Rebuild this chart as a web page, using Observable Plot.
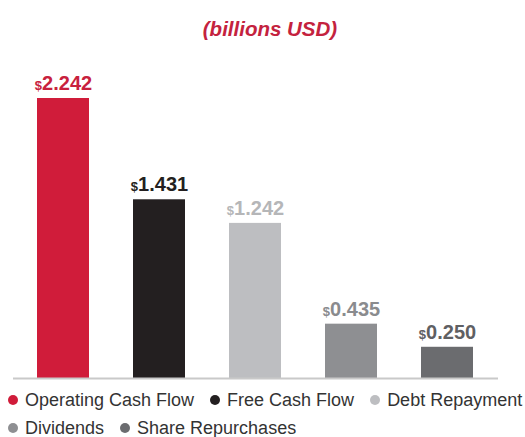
<!DOCTYPE html>
<html>
<head>
<meta charset="utf-8">
<script src="https://cdn.jsdelivr.net/npm/d3@7"></script>
<script src="https://cdn.jsdelivr.net/npm/@observablehq/plot@0.6"></script>
<style>
  html, body { margin: 0; padding: 0; background: #fff; }
  body { width: 525px; height: 437px; position: relative; overflow: hidden; font-family: "Liberation Sans", Arial, sans-serif; }
  #title { position: absolute; top: 17px; left: 0; width: 540px; text-align: center; color: #c4223e; font-weight: bold; font-style: italic; font-size: 20.5px; line-height: 24px; }
  #chart { position: absolute; top: 50px; left: 0; }
  #legend { position: absolute; top: 389px; left: 8px; width: 517px; display: flex; flex-wrap: wrap; column-gap: 16px; row-gap: 6px; font-size: 18px; color: #333; }
  .item { display: flex; align-items: center; line-height: 22px; white-space: nowrap; }
  .dot { width: 10px; height: 10px; border-radius: 50%; margin-right: 7px; }
</style>
</head>
<body>
<div id="title">(billions USD)</div>
<div id="chart"></div>
<div id="legend"></div>
<script>
const categories = ["Operating Cash Flow", "Free Cash Flow", "Debt Repayment", "Dividends", "Share Repurchases"];
const values = [2.242, 1.431, 1.242, 0.435, 0.250];
const barColors = ["#d01c3a", "#231f20", "#bdbec1", "#8e8f92", "#6b6c6f"];
const labelColors = ["#c8213d", "#231f20", "#b5b6b8", "#8a8b8e", "#5f6063"];
const labels = ["2.242", "1.431", "1.242", "0.435", "0.250"];

const data = categories.map((c, i) => ({category: c, value: values[i], label: labels[i], bar: barColors[i], lab: labelColors[i]}));

const plot = Plot.plot({
  width: 525,
  height: 335,
  marginTop: 48,
  marginBottom: 7,
  marginLeft: 13,
  marginRight: 27,
  x: {domain: categories, paddingInner: 0.455, paddingOuter: 0.23, axis: null},
  y: {domain: [0, 2.242], axis: null},
  marks: [
    Plot.barY(data, {x: "category", y: "value", fill: "bar"}),
    Plot.ruleY([0], {stroke: "#c9c9c9", strokeWidth: 2}),
    Plot.text(data, {x: "category", y: "value", text: d => "$" + d.label, fill: "lab", dy: -15, fontSize: 20, fontWeight: "bold", fontFamily: "Liberation Sans, Arial, sans-serif", className: "vlabel"})
  ]
});
document.getElementById("chart").appendChild(plot);

// Make the "$" smaller
plot.querySelectorAll(".vlabel text").forEach(t => {
  const s = t.textContent;
  if (s.startsWith("$")) {
    t.textContent = "";
    const ns = "http://www.w3.org/2000/svg";
    const a = document.createElementNS(ns, "tspan");
    a.setAttribute("font-size", "13");
    a.textContent = "$";
    const b = document.createElementNS(ns, "tspan");
    b.textContent = s.slice(1);
    t.appendChild(a); t.appendChild(b);
  }
});

const legend = document.getElementById("legend");
categories.forEach((c, i) => {
  const it = document.createElement("div");
  it.className = "item";
  const d = document.createElement("span");
  d.className = "dot";
  d.style.background = barColors[i];
  it.appendChild(d);
  const s = document.createElement("span");
  s.textContent = c;
  it.appendChild(s);
  legend.appendChild(it);
});
</script>
</body>
</html>
